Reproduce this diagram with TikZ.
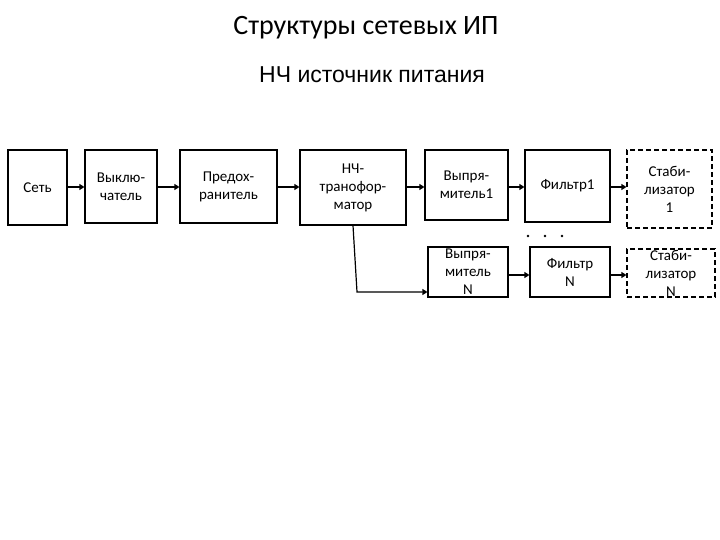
\documentclass[tikz,border=0pt]{standalone}
\usepackage{fontspec}
\setmainfont{Carlito}
\newfontfamily\arialf{Liberation Sans}
\usetikzlibrary{arrows.meta}
\begin{document}
\begin{tikzpicture}[x=1pt,y=-1pt,
 blk/.style={draw,line width=1.2pt,align=center,font=\fontsize{15}{18}\selectfont},
 dsh/.style={blk,dashed,dash pattern=on 5pt off 3pt},
 arr/.style={line width=1.8pt,-{Triangle[length=5pt,width=6pt]}}]
\useasboundingbox (0,0) rectangle (720,540);
\node[font=\fontsize{28}{32}\selectfont] (t) at (366,28) {Структуры сетевых ИП};
\node[font=\arialf\fontsize{23}{28}\selectfont] (s) at (372,75) {НЧ источник питания};
\newcommand\bx[7]{\node[#1,minimum width=#4,minimum height=#5,inner sep=0pt] (#2) at (#3) {#6};}
\bx{blk}{a}{37.5,187.5}{59pt}{75pt}{Сеть}{}
\bx{blk}{b}{121,186.5}{72pt}{73pt}{Выклю-\\чатель}{}
\bx{blk}{c}{228.5,186.5}{97pt}{73pt}{Предох-\\ранитель}{}
\bx{blk}{d}{353,187.5}{106pt}{75pt}{НЧ-\\транофор-\\матор}{}
\bx{blk}{e}{466.5,185}{83pt}{70pt}{Выпря-\\митель1}{}
\bx{blk}{f}{567.5,186}{85pt}{72pt}{Фильтр1}{}
\bx{dsh}{g}{669.5,189}{85pt}{78pt}{Стаби-\\лизатор\\1}{}
\bx{blk}{e2}{468,272}{80pt}{50pt}{Выпря-\\митель\\N}{}
\bx{blk}{f2}{570,272}{80pt}{50pt}{Фильтр\\N}{}
\bx{dsh}{g2}{671,273}{88pt}{48pt}{Стаби-\\лизатор\\N}{}
\foreach \u/\v in {a/b,b/c,c/d,d/e,e/f,f/g}{\draw[arr] (\u.east|-0,187) -- (\v.west|-0,187);}
\draw[arr] (e2.east|-0,275) -- (f2.west|-0,275);
\draw[arr] (f2.east|-0,275) -- (g2.west|-0,275);
\draw[line width=1.2pt,-{Triangle[length=5pt,width=6pt]}] (d.south) -- (357,292) -- (e2.west|-0,292);
\foreach \x in {528,545,562}{\fill (\x,236) circle (1.3pt);}
\end{tikzpicture}
\end{document}
